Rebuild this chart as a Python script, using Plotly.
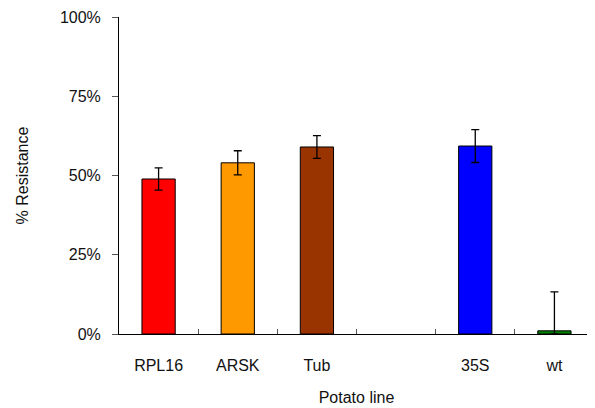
import plotly.graph_objects as go

categories = ["RPL16", "ARSK", "Tub", " ", "35S", "wt"]
resistance = [48.9, 54.0, 59.0, None, 59.3, 1.0]
err_plus = [3.5, 3.8, 3.6, 0, 5.2, 12.3]
err_minus = [3.5, 3.8, 3.6, 0, 5.2, 1.0]
bar_colors = ["#ff0000", "#ff9900", "#993300", "#ffffff", "#0000ff", "#008000"]
y_ticks = [0, 25, 50, 75, 100]
y_tick_labels = ["0%", "25%", "50%", "75%", "100%"]

font_family = "Liberation Sans, Arial, sans-serif"

fig = go.Figure()
fig.add_trace(go.Bar(
    x=categories,
    y=resistance,
    width=0.42,
    marker=dict(color=bar_colors, line=dict(color="black", width=1)),
    error_y=dict(type="data", symmetric=False, array=err_plus, arrayminus=err_minus,
                 color="black", thickness=1.3, width=4),
    showlegend=False,
))

fig.update_layout(
    width=587, height=400,
    margin=dict(l=111, r=1, t=9, b=74),
    plot_bgcolor="white", paper_bgcolor="white",
    font=dict(family=font_family, size=16, color="#111111"),
)
fig.update_xaxes(
    type="category", range=[-0.5, 5.5],
    showline=True, linecolor="black", linewidth=1,
    ticks="inside", tickson="boundaries", ticklen=5, tickcolor="#555555",
    showgrid=False,
    ticklabelstandoff=17,
    title=dict(text="Potato line", standoff=18, font=dict(size=16)),
    tickfont=dict(size=16),
)
fig.update_yaxes(
    range=[0, 100], tickvals=y_ticks, ticktext=y_tick_labels,
    showline=True, linecolor="black", linewidth=1,
    ticks="outside", ticklen=6, tickcolor="#555555",
    showgrid=False, zeroline=False,
    ticklabelstandoff=8,
    title=dict(text="% Resistance", standoff=27, font=dict(size=16)),
    tickfont=dict(size=16),
)

fig.write_html("out.html")
